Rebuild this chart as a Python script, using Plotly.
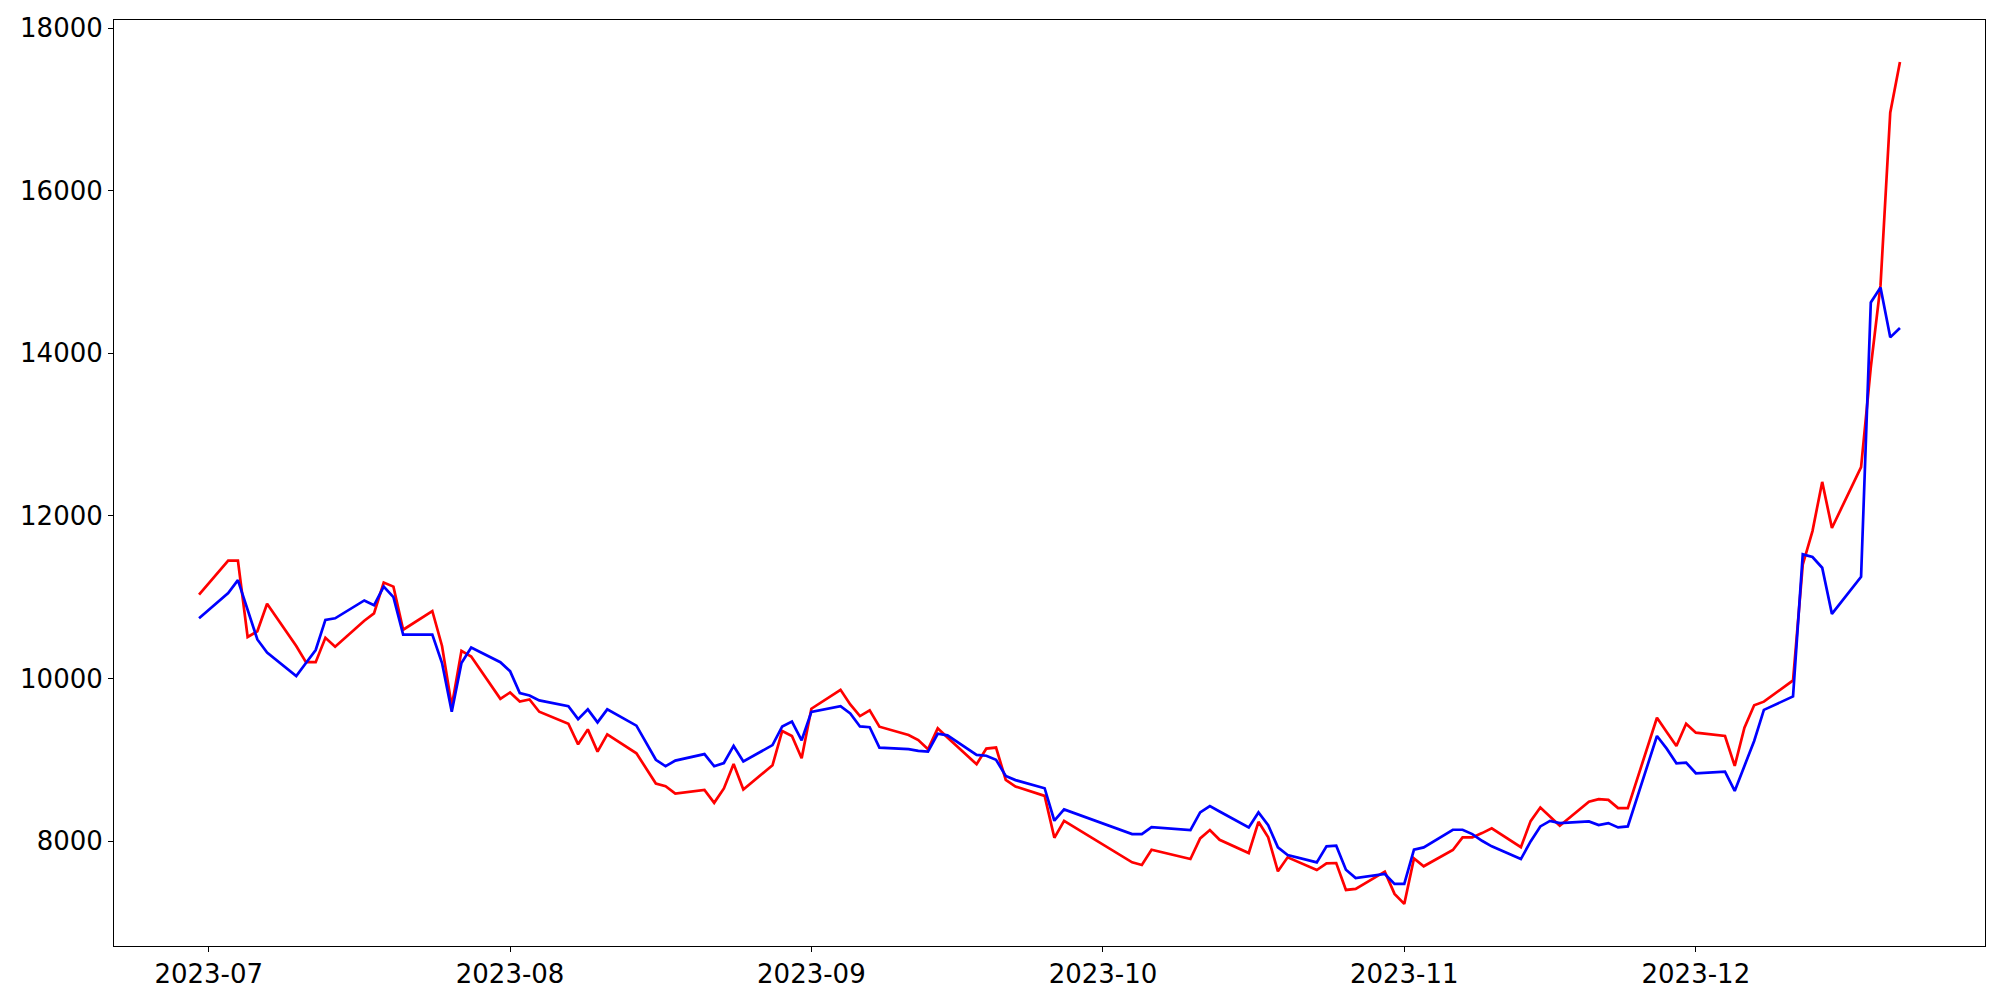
import pandas as pd
import plotly.graph_objects as go

dates = [
    "2023-06-30",
    "2023-07-03", "2023-07-04", "2023-07-05", "2023-07-06", "2023-07-07",
    "2023-07-10", "2023-07-11", "2023-07-12", "2023-07-13", "2023-07-14",
    "2023-07-17", "2023-07-18", "2023-07-19", "2023-07-20", "2023-07-21",
    "2023-07-24", "2023-07-25", "2023-07-26", "2023-07-27", "2023-07-28",
    "2023-07-31",
    "2023-08-01", "2023-08-02", "2023-08-03", "2023-08-04",
    "2023-08-07", "2023-08-08", "2023-08-09", "2023-08-10", "2023-08-11",
    "2023-08-14", "2023-08-16", "2023-08-17", "2023-08-18",
    "2023-08-21", "2023-08-22", "2023-08-23", "2023-08-24", "2023-08-25",
    "2023-08-28", "2023-08-29", "2023-08-30", "2023-08-31",
    "2023-09-01",
    "2023-09-04", "2023-09-05", "2023-09-06", "2023-09-07", "2023-09-08",
    "2023-09-11", "2023-09-12", "2023-09-13", "2023-09-14", "2023-09-15",
    "2023-09-18", "2023-09-19", "2023-09-20", "2023-09-21", "2023-09-22",
    "2023-09-25", "2023-09-26", "2023-09-27",
    "2023-10-04", "2023-10-05", "2023-10-06",
    "2023-10-10", "2023-10-11", "2023-10-12", "2023-10-13",
    "2023-10-16", "2023-10-17", "2023-10-18", "2023-10-19", "2023-10-20",
    "2023-10-23", "2023-10-24", "2023-10-25", "2023-10-26", "2023-10-27",
    "2023-10-30", "2023-10-31",
    "2023-11-01", "2023-11-02", "2023-11-03",
    "2023-11-06", "2023-11-07", "2023-11-08", "2023-11-09", "2023-11-10",
    "2023-11-13", "2023-11-14", "2023-11-15", "2023-11-16", "2023-11-17",
    "2023-11-20", "2023-11-21", "2023-11-22", "2023-11-23", "2023-11-24",
    "2023-11-27", "2023-11-28", "2023-11-29", "2023-11-30",
    "2023-12-01",
    "2023-12-04", "2023-12-05", "2023-12-06", "2023-12-07", "2023-12-08",
    "2023-12-11", "2023-12-12", "2023-12-13", "2023-12-14", "2023-12-15",
    "2023-12-18", "2023-12-19", "2023-12-20", "2023-12-21", "2023-12-22",
]

red_values = [
    11030,
    11450, 11450, 10510, 10580, 10920,
    10400, 10200, 10200, 10500, 10390,
    10710, 10800, 11180, 11130, 10600,
    10830, 10400, 9660, 10340, 10270,
    9750,
    9828, 9716, 9742, 9591,
    9444, 9190, 9374, 9100, 9313,
    9080, 8708, 8675, 8585,
    8630, 8470, 8647, 8948, 8634,
    8932, 9354, 9292, 9018,
    9628,
    9860, 9681, 9537, 9607, 9407,
    9304, 9243, 9129, 9387, 9273,
    8945, 9137, 9150, 8752, 8671,
    8556, 8040, 8249,
    7739, 7706, 7894,
    7779, 8033, 8135, 8016,
    7853, 8237, 8045, 7628, 7800,
    7644, 7726, 7730, 7399, 7411,
    7624, 7350,
    7227, 7787, 7690,
    7890, 8045, 8045, 8098, 8156,
    7925, 8245, 8413, 8303, 8188,
    8483, 8516, 8507, 8405, 8405,
    9517, 9341, 9169, 9444,
    9333,
    9292, 8924, 9395, 9670, 9715,
    9976, 11400, 11813, 12418, 11851,
    12600, 13826, 14838, 16959, 17582,
]

blue_values = [
    10740,
    11050, 11210, 10830, 10480, 10320,
    10030, 10190, 10350, 10720, 10740,
    10960, 10900, 11130, 11000, 10540,
    10540, 10190, 9590, 10190, 10380,
    10200,
    10090, 9820, 9790, 9730,
    9660, 9500, 9620, 9460, 9620,
    9420, 9000, 8920, 8990,
    9070, 8920, 8960, 9170, 8980,
    9180, 9410, 9470, 9240,
    9590,
    9660, 9570, 9410, 9400, 9150,
    9130, 9110, 9100, 9320, 9300,
    9060, 9050, 9000, 8800, 8750,
    8650, 8250, 8390,
    8086, 8086, 8170,
    8135, 8352, 8430, 8364,
    8168, 8352, 8196, 7922, 7828,
    7738, 7935, 7943, 7648, 7546,
    7595, 7473,
    7473, 7894, 7922,
    8139, 8139, 8086, 8004, 7935,
    7779, 7995, 8180, 8249, 8221,
    8241, 8196, 8221, 8168, 8180,
    9292, 9137, 8957, 8965,
    8834,
    8855, 8617, 8924, 9231, 9614,
    9779, 11527, 11494, 11362, 10795,
    11251, 14626, 14810, 14196, 14310,
]

y_tick_values = [8000, 10000, 12000, 14000, 16000, 18000]
x_tick_values = ["2023-07-01", "2023-08-01", "2023-09-01", "2023-10-01", "2023-11-01", "2023-12-01"]
x_tick_labels = ["2023-07", "2023-08", "2023-09", "2023-10", "2023-11", "2023-12"]

x = pd.to_datetime(dates)

# matplotlib-style 5% autoscale margins
xmin, xmax = x.min(), x.max()
xpad = (xmax - xmin) * 0.05
all_y = red_values + blue_values
ymin, ymax = min(all_y), max(all_y)
ypad = (ymax - ymin) * 0.05

fig = go.Figure()
fig.add_trace(go.Scatter(x=x, y=red_values, mode="lines",
                         line=dict(color="red", width=2.7), showlegend=False))
fig.add_trace(go.Scatter(x=x, y=blue_values, mode="lines",
                         line=dict(color="blue", width=2.7), showlegend=False))

axis_common = dict(
    showgrid=False, zeroline=False,
    showline=True, linecolor="black", linewidth=1, mirror=True,
    ticks="outside", ticklen=5, tickwidth=1, tickcolor="black",
    tickfont=dict(family="DejaVu Sans", size=26, color="black"),
    automargin=False,
)

fig.update_xaxes(
    range=[xmin - xpad, xmax + xpad],
    tickmode="array", tickvals=pd.to_datetime(x_tick_values), ticktext=x_tick_labels,
    **axis_common,
)
fig.update_yaxes(
    range=[ymin - ypad, ymax + ypad],
    tickmode="array", tickvals=y_tick_values, ticktext=[str(v) for v in y_tick_values],
    **axis_common,
)

# page body adds an 8px offset, so the figure is 8px smaller on each axis
fig.update_layout(
    width=1992, height=992,
    margin=dict(l=106, r=15, t=12, b=54),
    paper_bgcolor="white", plot_bgcolor="white",
    font=dict(family="DejaVu Sans", color="black"),
)

fig.write_html("out.html")
